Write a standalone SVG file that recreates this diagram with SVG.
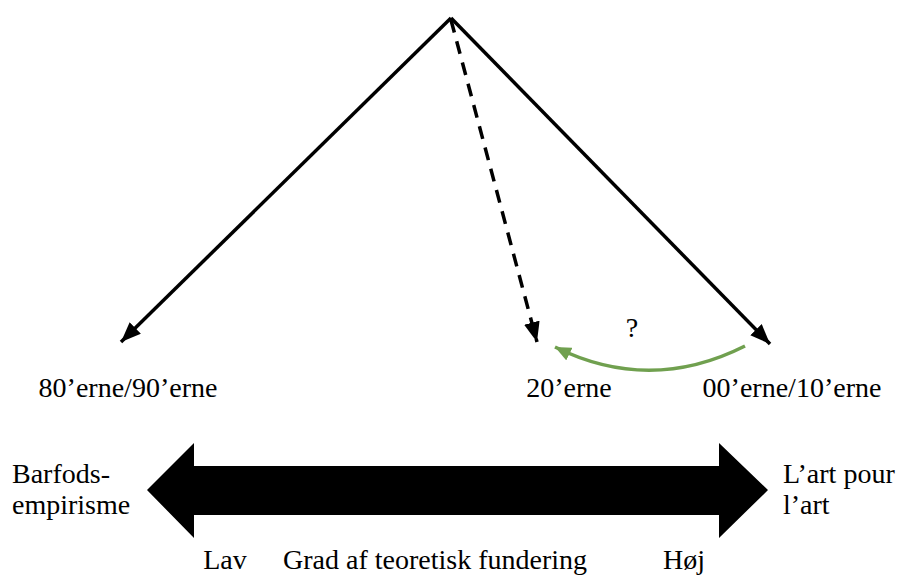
<svg xmlns="http://www.w3.org/2000/svg" width="901" height="576" viewBox="0 0 901 576">
  <style>
    .t { font-family: "Liberation Serif", "Times New Roman", serif; font-size: 28px; fill: #000; }
    .m { text-anchor: middle; }
    .ln { stroke: #000; stroke-width: 3.5; fill: none; }
    .dash { stroke-dasharray: 13 9; }
    .green { stroke: #70A04F; stroke-width: 3.5; fill: none; }
  </style>
  <defs>
    <marker id="ah" markerUnits="userSpaceOnUse" markerWidth="22" markerHeight="16" refX="20" refY="8" orient="auto">
      <path d="M0,0 L20,8 L0,16 Z" fill="#000"/>
    </marker>
    <marker id="ahg" markerUnits="userSpaceOnUse" markerWidth="18" markerHeight="14" refX="16" refY="7" orient="auto">
      <path d="M0,0 L16,7 L0,14 Z" fill="#70A04F"/>
    </marker>
  </defs>
  <rect width="901" height="576" fill="#fff"/>
  <g id="connectors">
    <line class="ln" x1="451" y1="18" x2="121" y2="342" marker-end="url(#ah)"/>
    <line class="ln" x1="451" y1="18" x2="770" y2="344" marker-end="url(#ah)"/>
    <line class="ln dash" x1="451" y1="20" x2="537" y2="342" marker-end="url(#ah)"/>
    <path class="green" d="M745,346 Q650,394 555,347" marker-end="url(#ahg)"/>
  </g>
  <g id="label-q"><text class="t m" x="632" y="337">?</text></g>
  <g id="node-8090"><text class="t m" x="128" y="397">80’erne/90’erne</text></g>
  <g id="node-20"><text class="t m" x="569" y="397">20’erne</text></g>
  <g id="node-0010"><text class="t m" x="792" y="397">00’erne/10’erne</text></g>
  <g id="scale">
    <polygon points="147,490 194,443 194,466 719,466 719,443 768,490 719,538 719,515 194,515 194,538" fill="#000"/>
  </g>
  <g id="left-label">
    <text class="t" x="12" y="483">Barfods-</text>
    <text class="t" x="12" y="514">empirisme</text>
  </g>
  <g id="right-label">
    <text class="t" x="783" y="483">L’art pour</text>
    <text class="t" x="783" y="514">l’art</text>
  </g>
  <g id="axis-labels">
    <text class="t m" x="225" y="569">Lav</text>
    <text class="t m" x="435" y="569">Grad af teoretisk fundering</text>
    <text class="t m" x="684" y="569">Høj</text>
  </g>
</svg>
